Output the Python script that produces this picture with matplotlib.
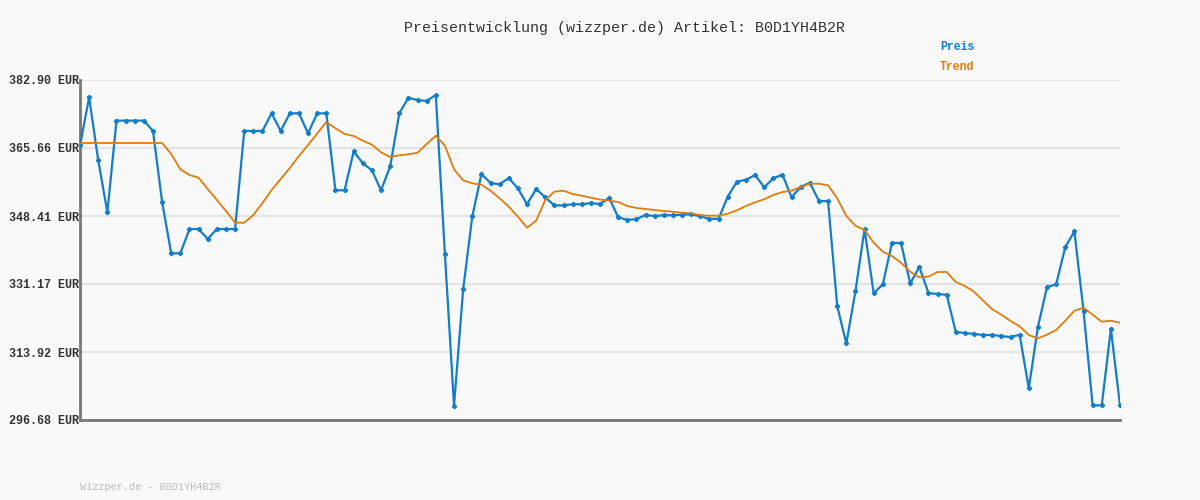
#!/usr/bin/python3
# Preisentwicklung chart for article B0D1YH4B2R

import matplotlib
matplotlib.use("Agg")
import matplotlib.pyplot as plt

# Price history (EUR), one value per sample
preis = [366.30, 378.50, 362.50, 349.35, 372.60, 372.60, 372.60, 372.60, 369.97, 351.96,
         338.95, 338.95, 345.10, 345.10, 342.60, 345.10, 345.10, 345.10, 369.97, 369.97,
         369.97, 374.45, 369.97, 374.45, 374.45, 369.40, 374.45, 374.45, 354.93, 354.93,
         364.80, 361.80, 360.00, 354.93, 361.00, 374.45, 378.40, 377.80, 377.60, 379.10,
         338.70, 300.30, 329.80, 348.30, 359.06, 356.80, 356.45, 358.05, 355.40, 351.40,
         355.25, 353.15, 351.10, 351.10, 351.40, 351.40, 351.70, 351.45, 352.97, 348.08,
         347.40, 347.65, 348.66, 348.40, 348.60, 348.60, 348.75, 348.85, 348.33, 347.65,
         347.73, 353.30, 357.10, 357.60, 358.80, 355.70, 357.97, 358.90, 353.15, 355.80,
         356.85, 352.20, 352.20, 325.60, 316.10, 329.30, 345.10, 328.80, 331.08, 341.56,
         341.56, 331.30, 335.50, 328.90, 328.60, 328.45, 319.00, 318.74, 318.50, 318.23,
         318.23, 317.98, 317.70, 318.30, 304.70, 320.30, 330.40, 331.08, 340.50, 344.50,
         324.40, 300.40, 300.40, 319.80, 300.40]

# Trend line (EUR)
trend = [366.92, 366.92, 366.92, 366.92, 366.92, 366.92, 366.92, 366.92, 366.92, 366.92,
         364.13, 360.25, 358.81, 358.12, 355.26, 352.47, 349.68, 346.71, 346.71, 348.66,
         351.71, 355.00, 357.79, 360.58, 363.63, 366.42, 369.33, 372.25, 370.65, 369.21,
         368.70, 367.51, 366.49, 364.56, 363.37, 363.80, 364.06, 364.46, 366.67, 368.77,
         366.24, 360.25, 357.46, 356.70, 356.35, 354.83, 352.90, 350.77, 348.23, 345.44,
         347.22, 352.47, 354.57, 354.83, 353.99, 353.56, 353.05, 352.59, 352.29, 351.96,
         350.95, 350.44, 350.19, 349.93, 349.68, 349.50, 349.25, 349.10, 348.59, 348.49,
         348.49, 348.99, 349.86, 350.95, 351.88, 352.65, 353.74, 354.50, 354.83, 355.76,
         356.60, 356.60, 356.20, 352.90, 348.41, 345.95, 344.86, 341.64, 339.36, 338.27,
         336.57, 334.28, 332.86, 333.02, 334.21, 334.21, 331.67, 330.66, 329.21, 326.93,
         324.75, 323.38, 321.78, 320.44, 318.23, 317.39, 318.31, 319.50, 321.86, 324.39,
         325.16, 323.38, 321.60, 321.86, 321.35]

y_ticks = [296.68, 313.92, 331.17, 348.41, 365.66, 382.90]
y_labels = ["%.2f EUR" % v for v in y_ticks]

article = "B0D1YH4B2R"
blue = "#137dca"
orange = "#e07c0c"
bg = "#f9f9f9"

plt.rcParams["font.family"] = ["Liberation Mono", "DejaVu Sans Mono"]

fig = plt.figure(figsize=(12, 5), dpi=100, facecolor=bg)
ax = fig.add_axes([80 / 1200, 80 / 500, 1040 / 1200, 340 / 500], facecolor=bg)

x = list(range(len(preis)))
ax.plot(x, preis, color=blue, lw=1.6, marker="P", markersize=2.8, zorder=3)
ax.plot(range(len(trend)), trend, color=orange, lw=1.3, zorder=4)

ax.set_xlim(0, len(preis) - 1)
ax.set_ylim(y_ticks[0], y_ticks[-1])
ax.set_yticks(y_ticks)
ax.set_yticklabels(y_labels, fontsize=8.5, fontweight="bold", color="#333333")
ax.set_xticks([])
ax.tick_params(axis="y", length=0, pad=1)
ax.grid(axis="y", color="#e4e4e4", lw=1.6, zorder=0)

for side in ["top", "right"]:
    ax.spines[side].set_visible(False)
for side in ["left", "bottom"]:
    ax.spines[side].set_color("#777777")
    ax.spines[side].set_linewidth(2)

fig.text(624 / 1200, 1 - 28 / 500, "Preisentwicklung (wizzper.de) Artikel: " + article,
         ha="center", va="center", fontsize=10.8, color="#333333")
fig.text(940 / 1200, 1 - 47 / 500, "Preis", ha="left", va="center",
         fontsize=8.3, fontweight="bold", color=blue)
fig.text(940 / 1200, 1 - 67 / 500, "Trend", ha="left", va="center",
         fontsize=8.3, fontweight="bold", color=orange)
fig.text(80 / 1200, 1 - 487 / 500, "Wizzper.de - " + article, ha="left", va="center",
         fontsize=7.3, color="#bbbbbb")

fig.savefig("out.png", dpi=100, facecolor=bg)
